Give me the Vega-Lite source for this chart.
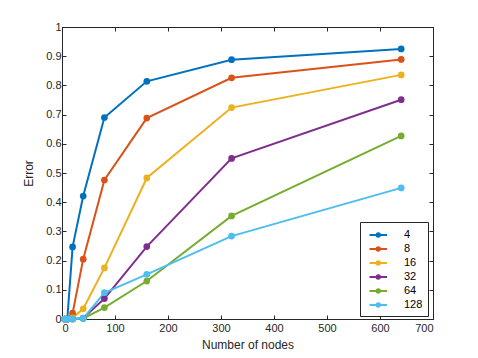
{
  "$schema": "https://vega.github.io/schema/vega-lite/v6.json",
  "width": 371,
  "height": 292,
  "autosize": {"type": "none"},
  "padding": {"left": 62, "top": 27, "right": 45, "bottom": 39},
  "config": {
    "font": "Liberation Sans",
    "view": {"stroke": "#262626", "strokeWidth": 1},
    "axis": {
      "grid": false,
      "domainColor": "#262626",
      "tickColor": "#262626",
      "tickSize": -4,
      "labelColor": "#262626",
      "titleColor": "#262626",
      "labelFontSize": 11,
      "titleFontSize": 12,
      "titleFontWeight": "normal",
      "labelPadding": 5
    }
  },
  "data": {
    "values": [
      {"n": 5, "err": 0, "s": "4"}, {"n": 10, "err": 0, "s": "4"}, {"n": 20, "err": 0.247, "s": "4"}, {"n": 40, "err": 0.421, "s": "4"}, {"n": 80, "err": 0.69, "s": "4"}, {"n": 160, "err": 0.814, "s": "4"}, {"n": 320, "err": 0.888, "s": "4"}, {"n": 640, "err": 0.925, "s": "4"},
      {"n": 5, "err": 0, "s": "8"}, {"n": 10, "err": 0, "s": "8"}, {"n": 20, "err": 0.02, "s": "8"}, {"n": 40, "err": 0.205, "s": "8"}, {"n": 80, "err": 0.476, "s": "8"}, {"n": 160, "err": 0.688, "s": "8"}, {"n": 320, "err": 0.826, "s": "8"}, {"n": 640, "err": 0.889, "s": "8"},
      {"n": 5, "err": 0, "s": "16"}, {"n": 10, "err": 0, "s": "16"}, {"n": 20, "err": 0.004, "s": "16"}, {"n": 40, "err": 0.035, "s": "16"}, {"n": 80, "err": 0.175, "s": "16"}, {"n": 160, "err": 0.483, "s": "16"}, {"n": 320, "err": 0.724, "s": "16"}, {"n": 640, "err": 0.836, "s": "16"},
      {"n": 5, "err": 0, "s": "32"}, {"n": 10, "err": 0, "s": "32"}, {"n": 20, "err": 0, "s": "32"}, {"n": 40, "err": 0.003, "s": "32"}, {"n": 80, "err": 0.07, "s": "32"}, {"n": 160, "err": 0.248, "s": "32"}, {"n": 320, "err": 0.55, "s": "32"}, {"n": 640, "err": 0.751, "s": "32"},
      {"n": 5, "err": 0, "s": "64"}, {"n": 10, "err": 0, "s": "64"}, {"n": 20, "err": 0, "s": "64"}, {"n": 40, "err": 0.002, "s": "64"}, {"n": 80, "err": 0.039, "s": "64"}, {"n": 160, "err": 0.13, "s": "64"}, {"n": 320, "err": 0.353, "s": "64"}, {"n": 640, "err": 0.627, "s": "64"},
      {"n": 5, "err": 0, "s": "128"}, {"n": 10, "err": 0, "s": "128"}, {"n": 20, "err": 0, "s": "128"}, {"n": 40, "err": 0.002, "s": "128"}, {"n": 80, "err": 0.09, "s": "128"}, {"n": 160, "err": 0.153, "s": "128"}, {"n": 320, "err": 0.284, "s": "128"}, {"n": 640, "err": 0.449, "s": "128"}
    ]
  },
  "encoding": {
    "color": {
      "field": "s",
      "type": "nominal",
      "sort": ["4", "8", "16", "32", "64", "128"],
      "scale": {"range": ["#0072BD", "#D95319", "#EDB120", "#7E2F8E", "#77AC30", "#4DBEEE"]},
      "legend": {
        "title": null,
        "orient": "none",
        "legendX": 298,
        "legendY": 195,
        "strokeColor": "#262626",
        "fillColor": "white",
        "padding": 5,
        "rowPadding": 0,
        "symbolType": "M -0.5 0 L 0.5 0 M 1 0 L 2 0 M 0.5 0 A 0.25 0.25 0 1 1 1 0 A 0.25 0.25 0 1 1 0.5 0 Z",
        "symbolSize": 196,
        "symbolStrokeWidth": 2,
        "symbolOpacity": 1,
        "labelFontSize": 11,
        "labelColor": "#000000",
        "labelOffset": 23,
        "encode": {
          "symbols": {"update": {"fill": {"scale": "color", "field": "value"}, "stroke": {"scale": "color", "field": "value"}, "opacity": {"value": 1}}}
        }
      }
    }
  },
  "layer": [
    {
      "mark": {"type": "line", "strokeWidth": 2},
      "encoding": {
        "x": {"field": "n", "type": "quantitative", "scale": {"domain": [0, 700], "nice": false}, "axis": {"title": "Number of nodes", "values": [0,100,200,300,400,500,600,700], "labelPadding": 7, "titlePadding": 6}},
        "y": {"field": "err", "type": "quantitative", "scale": {"domain": [0, 1], "nice": false}, "axis": {"title": "Error", "format": "~g", "values": [0,0.1,0.2,0.3,0.4,0.5,0.6,0.7,0.8,0.9,1], "titlePadding": 10}}
      }
    },
    {
      "mark": {"type": "circle", "size": 45, "opacity": 1},
      "encoding": {
        "x": {"field": "n", "type": "quantitative", "scale": {"domain": [0, 700], "nice": false}, "axis": {"orient": "top", "labels": false, "title": null, "values": [0,100,200,300,400,500,600,700]}},
        "y": {"field": "err", "type": "quantitative", "scale": {"domain": [0, 1], "nice": false}, "axis": {"orient": "right", "labels": false, "title": null, "values": [0,0.1,0.2,0.3,0.4,0.5,0.6,0.7,0.8,0.9,1]}}
      }
    }
  ],
  "resolve": {"axis": {"x": "independent", "y": "independent"}}
}
